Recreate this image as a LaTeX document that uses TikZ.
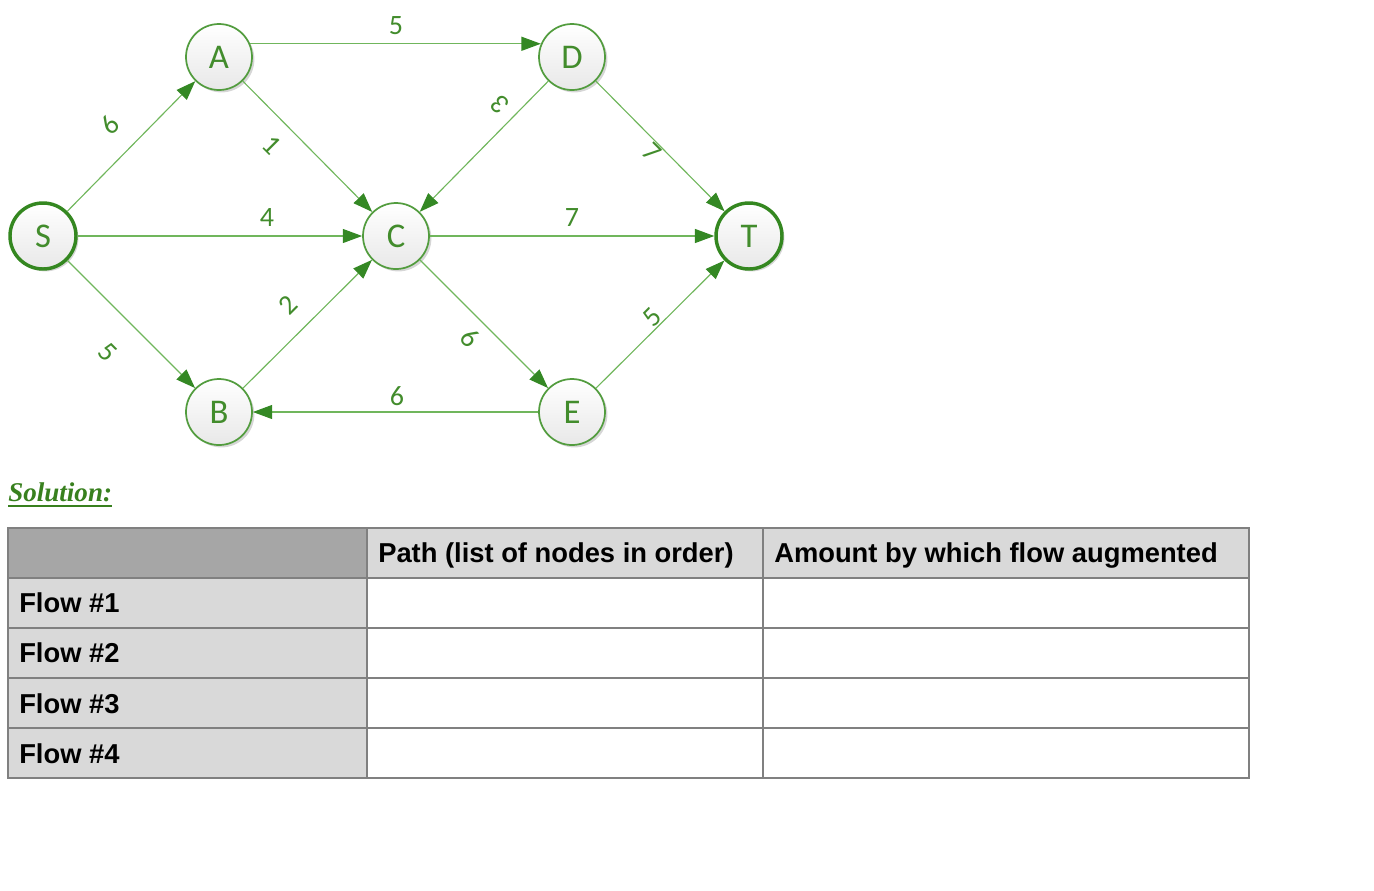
\documentclass[tikz,border=0pt]{standalone}
\usepackage{fontspec}
\setmainfont{Liberation Sans}
\newfontfamily\graphfont{Carlito}
\newfontfamily\solfont{Liberation Serif}
\usetikzlibrary{arrows.meta,shadows}
\definecolor{edgegreen}{RGB}{112,182,92}
\definecolor{tipgreen}{RGB}{52,136,36}
\definecolor{rimgreen}{RGB}{82,156,62}
\definecolor{darkrim}{RGB}{52,135,32}
\definecolor{labgreen}{RGB}{66,140,44}
\definecolor{solgreen}{RGB}{56,128,30}
\definecolor{hdrdark}{RGB}{166,166,166}
\definecolor{hdrlight}{RGB}{217,217,217}
\definecolor{gridgrey}{RGB}{128,128,128}
\begin{document}
\begin{tikzpicture}[x=0.75pt,y=-0.75pt,
  vertex/.style={circle,draw=rimgreen,line width=1.3pt,minimum size=49.5pt,inner sep=0pt,
    top color=white,bottom color=black!9,
    drop shadow={shadow xshift=1.8pt,shadow yshift=-1.8pt,fill=black,opacity=0.16},
    text=labgreen,font=\graphfont\fontsize{26}{30}\selectfont},
  terminal/.style={vertex,draw=darkrim,line width=2.6pt},
  edge/.style={draw=edgegreen,line width=0.85pt,-{Triangle[length=14.5pt,width=10.5pt,color=tipgreen]}},
  elab/.style={text=labgreen,font=\graphfont\fontsize{21}{25}\selectfont,inner sep=0pt},
  grid/.style={draw=gridgrey,line width=0.8pt},
  celltext/.style={anchor=base west,inner sep=0pt,font=\bfseries\fontsize{20.5}{24}\selectfont}]
\useasboundingbox (0,0) rectangle (1374,890);
% nodes
\node[terminal] (S) at (43,236) {S};
\node[vertex] (A) at (219,57) {A};
\node[vertex] (D) at (572,57) {D};
\node[vertex] (C) at (396,236) {C};
\node[terminal] (T) at (749,236) {T};
\node[vertex] (B) at (219,412) {B};
\node[vertex] (E) at (572,412) {E};
% edges
\draw[edge] (S) -- (A);
\draw[edge] (A.23) -- (D.157);
\draw[edge] (A) -- (C);
\draw[edge] (S) -- (C);
\draw[edge] (S) -- (B);
\draw[edge] (B) -- (C);
\draw[edge] (D) -- (C);
\draw[edge] (D) -- (T);
\draw[edge] (C) -- (T);
\draw[edge] (C) -- (E);
\draw[edge] (E) -- (T);
\draw[edge] (E) -- (B);
% edge labels
\node[elab] (lAD) at (396,26) {5};
\node[elab,rotate=45] (lSA) at (110,125) {6};
\node[elab,rotate=-45] (lAC) at (272,145) {1};
\node[elab] (lSC) at (267,218) {4};
\node[elab,rotate=135] (lDC) at (500,105) {3};
\node[elab,rotate=-45] (lDT) at (652,152) {7};
\node[elab] (lCT) at (572,218) {7};
\node[elab,rotate=45] (lBC) at (288,305) {2};
\node[elab,rotate=-45] (lCE) at (470,338) {6};
\node[elab,rotate=45] (lET) at (652,317) {5};
\node[elab,rotate=-45] (lSB) at (108,352) {5};
\node[elab] (lEB) at (397,396) {6};
% solution heading
\node[anchor=base west,inner sep=0pt,text=solgreen,
  font=\solfont\bfseries\itshape\fontsize{20.3}{24}\selectfont] (sol) at (8,501) {Solution:};
\draw[solgreen,line width=1.5pt] ([yshift=-3.5pt]sol.base west) -- ([yshift=-3.5pt]sol.base east);
% table fills
\fill[hdrdark] (8,528) rectangle (367,578);
\fill[hdrlight] (367,528) rectangle (1249,578);
\fill[hdrlight] (8,578) rectangle (367,778);
% table grid
\draw[grid] (8,528) rectangle (1249,778);
\foreach \yy in {578,628,678,728} \draw[grid] (8,\yy) -- (1249,\yy);
\draw[grid] (367,528) -- (367,778);
\draw[grid] (763,528) -- (763,778);
% table texts
\node[celltext] (h2) at (378,562) {Path (list of nodes in order)};
\node[celltext] (h3) at (774,562) {Amount by which flow augmented};
\node[celltext] (f1) at (19,612) {Flow \#1};
\node[celltext] (f2) at (19,662) {Flow \#2};
\node[celltext] (f3) at (19,713) {Flow \#3};
\node[celltext] (f4) at (19,763) {Flow \#4};
\end{tikzpicture}
\end{document}
